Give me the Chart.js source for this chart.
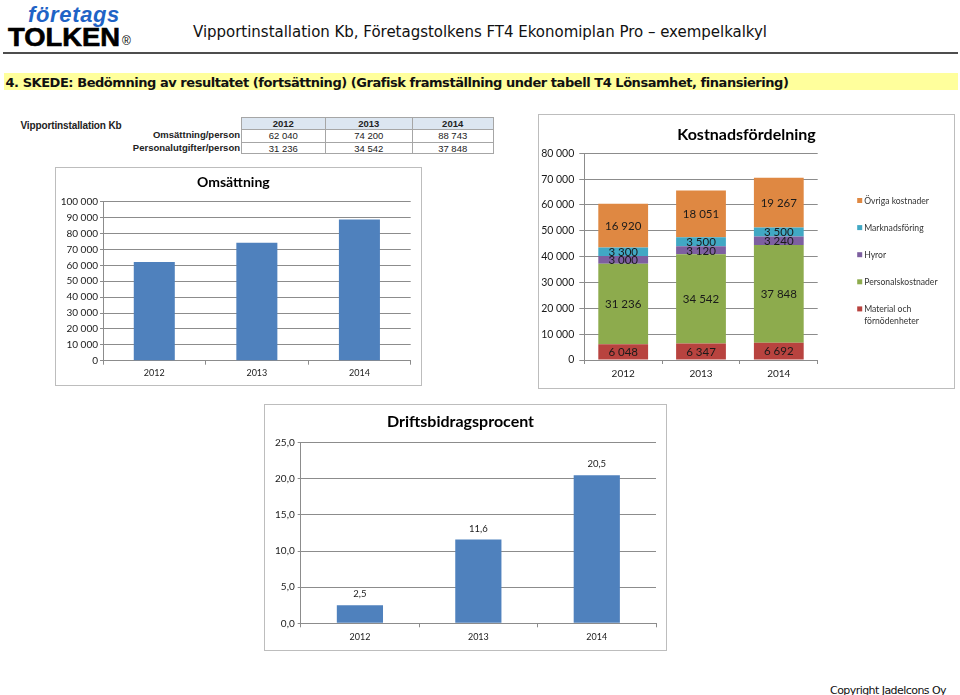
<!DOCTYPE html>
<html><head><meta charset="utf-8">
<script src="https://cdn.jsdelivr.net/npm/chart.js@4.4.1/dist/chart.umd.min.js"></script>
<style>
html,body{margin:0;padding:0;background:#fff;width:960px;height:695px;overflow:hidden;position:relative}
.abs{position:absolute;white-space:nowrap;line-height:1}
.frame{position:absolute;border:1px solid #bdbdbd;background:#fff}
.frame canvas{display:block}
.cell{position:absolute;box-sizing:border-box;font-family:"Liberation Sans",Arial,sans-serif;font-size:9.5px;color:#222;text-align:center;line-height:12px}
</style></head>
<body>
<div class="abs" id="logo1" style="left:28px;top:1.8px;font:italic bold 22px 'Liberation Sans',Arial,sans-serif;color:#1f63c6">företags</div>
<div class="abs" id="logo2" style="left:8px;top:23.2px;font:bold 25px 'Liberation Sans',Arial,sans-serif;color:#000;-webkit-text-stroke:0.6px #000;transform-origin:0 0">TOLKEN</div>
<div class="abs" style="left:122px;top:34px;font:12px 'Liberation Sans',Arial,sans-serif;color:#000">®</div>
<div class="abs" id="htitle" style="left:193px;top:23.3px;font:15px 'DejaVu Sans',Verdana,sans-serif;color:#111">Vipportinstallation Kb, Företagstolkens FT4 Ekonomiplan Pro – exempelkalkyl</div>
<div style="position:absolute;left:3px;top:52px;width:955px;height:2px;background:#4d4d4d"></div>
<div style="position:absolute;left:4px;top:72.5px;width:954px;height:17.5px;background:#ffff9c"></div>
<div class="abs" id="stitle" style="left:5.5px;top:74.7px;font:bold 13px 'DejaVu Sans',Verdana,sans-serif;color:#111">4. SKEDE: Bedömning av resultatet (fortsättning) (Grafisk framställning under tabell T4 Lönsamhet, finansiering)</div>
<div class="abs" id="tname" style="left:20.5px;top:119.8px;font:bold 10px 'Liberation Sans',Arial,sans-serif;color:#222">Vipportinstallation Kb</div>
<div id="tbl"></div>

<div class="frame" style="left:55px;top:167px"><canvas id="c1" width="365" height="217"></canvas></div>
<div class="frame" style="left:538px;top:114px"><canvas id="c2" width="415" height="273"></canvas></div>
<div class="frame" style="left:264px;top:404px"><canvas id="c3" width="401" height="245"></canvas></div>

<div class="abs" id="copy" style="left:830px;top:683.7px;font:11px 'DejaVu Sans',Verdana,sans-serif;color:#111">Copyright Jadelcons Oy</div>

<script>
// ---------- data ----------
const years = ['2012', '2013', '2014'];
const omsattningPerPerson = [62040, 74200, 88743];
const personalutgifterPerPerson = [31236, 34542, 37848];
const tableRowLabels = ['Omsättning/person', 'Personalutgifter/person'];

const costLabels = ['Material och förnödenheter', 'Personalskostnader', 'Hyror', 'Marknadsföring', 'Övriga kostnader'];
const material = [6048, 6347, 6692];
const personalkostnader = [31236, 34542, 37848];
const hyror = [3000, 3120, 3240];
const marknadsforing = [3300, 3500, 3500];
const ovriga = [16920, 18051, 19267];

const driftsbidragsprocent = [2.5, 11.6, 20.5];

// ---------- helpers ----------
function fmtSpace(n){ return String(n).replace(/\B(?=(\d{3})+(?!\d))/g, ' '); }
function fmtComma(n){ return Number(n).toFixed(1).replace('.', ','); }
function fitWidth(id, w){
  const el = document.getElementById(id);
  const cur = el.getBoundingClientRect().width;
  const n = el.textContent.length;
  el.style.letterSpacing = ((w - cur) / n) + 'px';
}
function fitScale(id, w){
  const el = document.getElementById(id);
  const cur = el.getBoundingClientRect().width;
  el.style.transform = 'scaleX(' + (w / cur) + ')';
}
fitWidth('htitle', 574);
fitWidth('stitle', 782);
fitScale('logo2', 112);
fitWidth('logo1', 92);
fitWidth('copy', 116);
fitWidth('tname', 101);

// ---------- table ----------
(function(){
  const t = document.getElementById('tbl');
  const colX = [240.7, 325, 411.7, 492.7];
  const rowY = [116.7, 129.3, 141.7, 153.3];
  const rows = [years, omsattningPerPerson.map(fmtSpace), personalutgifterPerPerson.map(fmtSpace)];
  let html = '';
  for (let r = 0; r < 3; r++){
    for (let c = 0; c < 3; c++){
      const st = `left:${colX[c]}px;top:${rowY[r]}px;width:${colX[c+1]-colX[c]+1}px;height:${rowY[r+1]-rowY[r]+1}px;` +
        `border:1px solid #a6a6a6;${r===0?'background:#dce6f1;font-weight:bold;':''}`;
      html += `<div class="cell" style="${st}">${rows[r][c]}</div>`;
    }
    if (r > 0){
      html += `<div class="cell" style="left:120px;top:${rowY[r]}px;width:120px;height:${rowY[r+1]-rowY[r]}px;text-align:right;font-weight:bold">${tableRowLabels[r-1]}</div>`;
    }
  }
  t.innerHTML = html;
})();

// ---------- value-label plugin ----------
const valueLabels = {
  id: 'valueLabels',
  afterDatasetsDraw(chart, args, opts){
    if (!opts || !opts.mode) return;
    const ctx = chart.ctx;
    ctx.save();
    ctx.font = opts.font;
    ctx.fillStyle = opts.color;
    ctx.textAlign = 'center';
    ctx.textBaseline = 'middle';
    chart.data.datasets.forEach((ds, i) => {
      const meta = chart.getDatasetMeta(i);
      meta.data.forEach((el, j) => {
        const txt = opts.format(ds.data[j]);
        if (opts.mode === 'center'){
          const p = el.getCenterPoint();
          ctx.fillText(txt, p.x, p.y + 0.5);
        } else {
          ctx.fillText(txt, el.x, el.y - opts.offset);
        }
      });
    });
    ctx.restore();
  }
};

// ---------- side legend as a layout box (keeps title centred on full chart) ----------
const sideLegend = {
  id: 'sideLegend',
  beforeInit(chart, args, opts){
    const box = {
      position: 'right', weight: 1000, fullSize: false, options: { stack: undefined, stackWeight: 1 },
      left: 0, top: 0, right: 0, bottom: 0, width: 0, height: 0,
      isHorizontal(){ return false; },
      update(maxW, maxH){ this.width = opts.width; this.height = maxH; },
      draw(){
        const ctx = chart.ctx;
        const ds = chart.data.datasets;
        ctx.save();
        ctx.font = opts.font;
        ctx.textBaseline = 'middle';
        ctx.textAlign = 'left';
        for (let k = 0; k < ds.length; k++){
          const d = ds[ds.length - 1 - k];
          const y = opts.firstY + k * opts.step;
          const x = this.left + opts.offsetX;
          ctx.fillStyle = d.backgroundColor;
          ctx.fillRect(x, y - 2.5, 5, 5);
          ctx.fillStyle = opts.color;
          const words = d.label.split(' ');
          const lines = d.label.length > 20 ? [words.slice(0, 2).join(' '), words.slice(2).join(' ')] : [d.label];
          lines.forEach((ln, m) => ctx.fillText(ln, x + 7, y + 0.5 + m * 11.7));
        }
        ctx.restore();
      }
    };
    Chart.layouts.addBox(chart, box);
  }
};

const GRID = '#8c8c8c';
const FONT = 'Lato';
Chart.defaults.font.family = FONT;
Chart.defaults.color = '#1a1a1a';

// ---------- Chart 1: Omsättning ----------
new Chart(document.getElementById('c1'), {
  type: 'bar',
  data: { labels: years, datasets: [{ label: 'Omsättning', data: omsattningPerPerson, backgroundColor: '#4f81bd', barPercentage: 0.4, categoryPercentage: 1 }] },
  options: {
    animation: false, responsive: false, devicePixelRatio: 1,
    layout: { padding: { left: 0, right: 10.3, top: 0, bottom: 0 } },
    plugins: {
      legend: { display: false }, tooltip: { enabled: false },
      title: { display: true, text: 'Omsättning', color: '#000', font: { family: FONT, size: 14, weight: 'bold' }, padding: { top: 5.6, bottom: 11.3 } }
    },
    scales: {
      x: {
        grid: { display: true, drawOnChartArea: false, drawTicks: true, tickLength: 4, color: GRID, offset: true },
        border: { color: GRID },
        ticks: { font: { size: 9 }, color: '#1a1a1a', padding: 3 },
        afterFit: s => { s.height = 24.3; }
      },
      y: {
        min: 0, max: 100000,
        ticks: { stepSize: 10000, callback: v => fmtSpace(v), font: { size: 10 }, color: '#1a1a1a', padding: 2 },
        grid: { color: GRID, tickLength: 3 },
        border: { color: GRID },
        afterFit: s => { s.width = 47; }
      }
    }
  }
});

// ---------- Chart 2: Kostnadsfördelning ----------
const costSeries = [material, personalkostnader, hyror, marknadsforing, ovriga];
const costColors = ['#b8433f', '#8dab4d', '#7d5fa0', '#41a8c4', '#df8842'];
new Chart(document.getElementById('c2'), {
  type: 'bar',
  data: {
    labels: years,
    datasets: costSeries.map((d, i) => ({ label: costLabels[i], data: d, backgroundColor: costColors[i], barPercentage: 0.64, categoryPercentage: 1 }))
  },
  options: {
    animation: false, responsive: false, devicePixelRatio: 1,
    layout: { padding: { left: 0, right: 0, top: 0, bottom: 0 } },
    plugins: {
      legend: { display: false }, tooltip: { enabled: false },
      title: { display: true, text: 'Kostnadsfördelning', color: '#000', font: { family: FONT, size: 16, weight: 'bold' }, padding: { top: 10.4, bottom: 8.7 } },
      valueLabels: { mode: 'center', font: '11.5px Lato', color: '#1a1a1a', format: fmtSpace },
      sideLegend: { width: 136.3, offsetX: 39.5, firstY: 85.5, step: 27.1, font: '8.6px Lato', color: '#333' }
    },
    scales: {
      x: {
        stacked: true,
        grid: { display: true, drawOnChartArea: false, drawTicks: true, tickLength: 4, color: GRID, offset: true },
        border: { color: GRID },
        ticks: { font: { size: 10 }, color: '#1a1a1a', padding: 4 },
        afterFit: s => { s.height = 28; }
      },
      y: {
        stacked: true, min: 0, max: 80000,
        ticks: { stepSize: 10000, callback: v => fmtSpace(v), font: { size: 10.5 }, color: '#1a1a1a', padding: 5 },
        grid: { color: GRID, tickLength: 5 },
        border: { color: GRID },
        afterFit: s => { s.width = 45.3; }
      }
    }
  },
  plugins: [valueLabels, sideLegend]
});

// ---------- Chart 3: Driftsbidragsprocent ----------
new Chart(document.getElementById('c3'), {
  type: 'bar',
  data: { labels: years, datasets: [{ label: 'Driftsbidragsprocent', data: driftsbidragsprocent, backgroundColor: '#4f81bd', barPercentage: 0.39, categoryPercentage: 1 }] },
  options: {
    animation: false, responsive: false, devicePixelRatio: 1,
    layout: { padding: { left: 0, right: 10, top: 0, bottom: 0 } },
    plugins: {
      legend: { display: false }, tooltip: { enabled: false },
      title: { display: true, text: 'Driftsbidragsprocent', color: '#000', font: { family: FONT, size: 16, weight: 'bold' }, padding: { top: 7.1, bottom: 11.4 } },
      valueLabels: { mode: 'top', font: '9.5px Lato', color: '#1a1a1a', format: fmtComma, offset: 11 }
    },
    scales: {
      x: {
        grid: { display: true, drawOnChartArea: false, drawTicks: true, tickLength: 4, color: GRID, offset: true },
        border: { color: GRID },
        ticks: { font: { size: 9 }, color: '#1a1a1a', padding: 4 },
        afterFit: s => { s.height = 26.7; }
      },
      y: {
        min: 0, max: 25,
        ticks: { stepSize: 5, callback: v => fmtComma(v), font: { size: 10 }, color: '#1a1a1a', padding: 3 },
        grid: { color: GRID, tickLength: 3 },
        border: { color: GRID },
        afterFit: s => { s.width = 35.7; }
      }
    }
  },
  plugins: [valueLabels]
});
</script>
</body></html>
